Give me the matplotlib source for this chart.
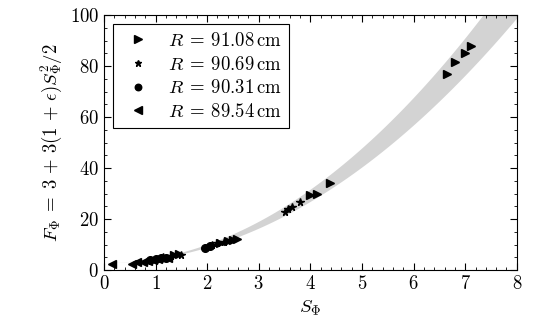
import numpy as np
import matplotlib
matplotlib.use("Agg")
import matplotlib.pyplot as plt
from matplotlib.ticker import MultipleLocator

plt.rcParams.update({
    'font.family': 'serif',
    'font.serif': ['cmr10'],
    'mathtext.fontset': 'cm',
    'axes.formatter.use_mathtext': True,
    'font.size': 13.5,
    'xtick.direction': 'in',
    'ytick.direction': 'in',
    'xtick.top': True,
    'ytick.right': True,
})

# data
s_9108 = [1.35, 1.45, 2.25, 2.40, 2.50, 2.57, 3.99, 4.13, 4.38, 6.64, 6.80, 7.00, 7.11]
f_9108 = [5.8, 6.2, 10.6, 11.3, 11.8, 12.2, 29.4, 29.8, 34.0, 77.1, 81.7, 85.0, 87.8]

s_9069 = [1.15, 1.30, 1.50, 2.10, 2.20, 2.33, 3.51, 3.57, 3.64, 3.79]
f_9069 = [5.0, 5.4, 6.0, 10.0, 10.5, 11.0, 22.9, 23.8, 24.6, 26.8]

s_9031 = [0.90, 1.00, 1.10, 1.20, 1.96, 2.05]
f_9031 = [4.0, 4.3, 4.6, 4.9, 8.8, 9.5]

s_8954 = [0.15, 0.54, 0.65, 0.75, 0.85, 0.95, 1.05, 1.25]
f_8954 = [2.6, 2.6, 3.0, 3.3, 3.6, 3.9, 4.2, 4.8]

eps_lo, eps_hi = 0.0, 0.2

fig = plt.figure(figsize=(5.44, 3.36), dpi=100)
ax = fig.add_axes([0.191, 0.196, 0.759, 0.759])

s = np.linspace(0, 8, 400)
ax.fill_between(s, 3 + 3 * (1 + eps_lo) * s**2 / 2, 3 + 3 * (1 + eps_hi) * s**2 / 2,
                color='#d3d3d3', lw=0)

ax.plot(s_9108, f_9108, '>', color='k', ms=6, label=r'$R\:=\:91.08\,\mathrm{cm}$')
ax.plot(s_9069, f_9069, '*', color='k', ms=5.5, label=r'$R\:=\:90.69\,\mathrm{cm}$')
ax.plot(s_9031, f_9031, 'o', color='k', ms=5.5, label=r'$R\:=\:90.31\,\mathrm{cm}$')
ax.plot(s_8954, f_8954, '<', color='k', ms=6, label=r'$R\:=\:89.54\,\mathrm{cm}$')

ax.set_xlim(0, 8)
ax.set_ylim(0, 100)
ax.xaxis.set_major_locator(MultipleLocator(1))
ax.xaxis.set_minor_locator(MultipleLocator(0.2))
ax.yaxis.set_major_locator(MultipleLocator(20))
ax.yaxis.set_minor_locator(MultipleLocator(5))
ax.tick_params(which='major', length=5)
ax.tick_params(which='minor', length=2.5)

ax.set_xlabel(r'$S_\Phi$')
ax.set_ylabel(r'$F_\Phi \;=\; 3 \,+\, 3(1 \,+\, \epsilon)S_\Phi^2/2$')

leg = ax.legend(loc='upper left', fancybox=False, edgecolor='k', framealpha=1,
                markerscale=0.85, handletextpad=0.7, handlelength=1.8,
                borderpad=0.4, labelspacing=0.3, borderaxespad=0.5)
leg.get_frame().set_linewidth(0.8)

fig.savefig('out.png', dpi=100)
